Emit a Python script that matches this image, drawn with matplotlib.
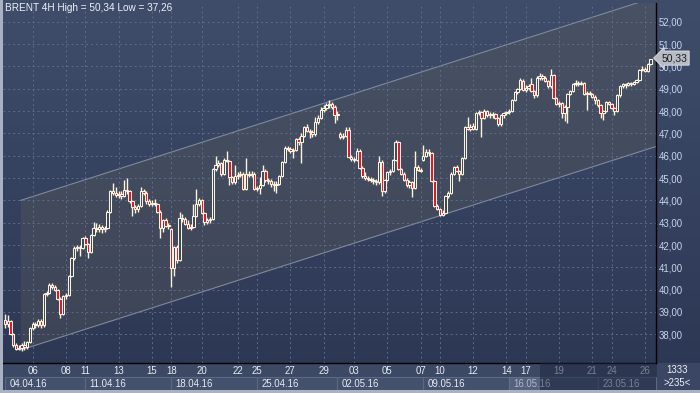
"""BRENT 4H candlestick chart"""

import numpy as np
import matplotlib
matplotlib.use('Agg')
import matplotlib.pyplot as plt
import matplotlib.transforms as mtransforms
from matplotlib.colors import LinearSegmentedColormap
from matplotlib.patches import Rectangle, Polygon

# Data ########################################################################
opens = [
    38.65, 38.45, 38.60, 38.00, 37.50, 37.35, 37.40, 37.50, 37.45, 37.65,
    38.30, 38.45, 38.40, 38.60, 38.40, 39.80, 39.85, 40.20, 40.10, 40.00,
    39.60, 38.90, 39.70, 39.75, 40.60, 41.40, 41.85, 41.90, 41.85, 42.30,
    42.05, 41.70, 42.45, 42.75, 42.70, 42.80, 42.70, 42.75, 43.50, 44.40,
    44.35, 44.25, 44.30, 44.20, 44.45, 44.40, 43.95, 43.70, 43.60, 43.75,
    44.40, 44.35, 43.95, 43.85, 43.90, 43.85, 43.50, 42.75, 43.10, 42.85,
    42.70, 40.95, 41.90, 41.35, 43.20, 43.15, 42.95, 42.75, 42.80, 43.30,
    43.85, 44.00, 43.45, 43.05, 43.10, 43.15, 45.40, 45.60, 45.65, 45.20,
    45.80, 45.75, 45.05, 44.80, 45.10, 45.15, 45.20, 44.50, 45.20, 45.15,
    45.20, 44.50, 44.55, 44.70, 45.30, 44.90, 44.85, 44.75, 44.70, 44.75,
    45.10, 45.70, 46.35, 46.30, 46.20, 46.25, 46.75, 46.60, 46.90, 47.30,
    47.10, 47.05, 46.95, 47.50, 47.70, 48.05, 48.15, 48.25, 48.30, 48.20,
    47.80, 46.95, 46.85, 46.90, 47.15, 45.95, 45.85, 45.80, 46.20, 45.45,
    45.10, 45.00, 44.95, 44.90, 44.85, 44.80, 45.70, 44.40, 44.90, 45.25,
    45.30, 45.80, 46.60, 45.40, 45.20, 44.90, 44.70, 44.80, 44.55, 45.50,
    45.35, 45.80, 46.00, 46.15, 46.10, 44.85, 43.75, 43.60, 43.35, 43.45,
    44.20, 44.35, 45.20, 45.50, 45.30, 45.20, 45.90, 47.30, 47.20, 47.35,
    47.20, 47.90, 47.95, 47.70, 48.00, 47.80, 47.85, 47.85, 47.70, 47.40,
    47.80, 47.90, 47.95, 48.00, 48.50, 48.85, 49.00, 49.35, 48.95, 49.05,
    49.20, 48.90, 48.70, 49.50, 49.55, 49.50, 49.35, 49.10, 49.60, 48.60,
    48.30, 48.35, 47.90, 48.20, 48.75, 48.90, 49.20, 49.25, 49.20, 49.25,
    48.75, 48.80, 48.75, 48.65, 48.50, 48.25, 47.90, 48.00, 48.40, 48.30,
    48.15, 48.00, 48.70, 49.10, 49.20, 49.15, 49.25, 49.20, 49.30, 49.40,
    49.85, 49.90, 49.80, 50.10,
]
highs = [
    38.90, 38.87, 38.65, 38.05, 37.60, 37.50, 37.60, 37.70, 37.70, 38.35,
    38.55, 38.55, 38.70, 38.70, 39.85, 39.95, 40.30, 40.30, 40.20, 40.05,
    39.65, 39.75, 39.85, 40.65, 41.45, 41.95, 42.00, 42.00, 42.35, 42.40,
    42.10, 42.50, 43.05, 43.00, 42.95, 42.90, 42.85, 43.55, 44.45, 44.76,
    44.60, 44.40, 44.40, 44.90, 45.00, 44.45, 44.00, 43.80, 43.85, 44.60,
    44.50, 44.40, 44.05, 44.00, 44.05, 43.90, 43.55, 43.15, 43.20, 43.00,
    42.75, 41.95, 42.00, 43.50, 43.40, 43.25, 43.10, 42.95, 43.85, 44.50,
    44.10, 44.05, 43.50, 43.20, 43.25, 45.45, 46.00, 45.80, 45.70, 45.90,
    46.20, 45.80, 45.10, 45.60, 45.25, 45.30, 45.25, 45.90, 45.30, 45.30,
    45.25, 44.65, 45.05, 45.60, 45.40, 45.00, 44.95, 44.85, 44.85, 45.15,
    45.75, 46.45, 46.45, 46.40, 46.35, 46.80, 46.85, 47.00, 47.35, 47.40,
    47.20, 47.15, 47.75, 47.80, 48.20, 48.25, 48.35, 48.50, 48.40, 48.25,
    48.00, 47.05, 47.00, 47.30, 47.30, 46.05, 45.95, 46.35, 46.30, 45.55,
    45.25, 45.10, 45.05, 45.00, 44.95, 46.00, 45.80, 44.95, 45.30, 45.40,
    45.85, 46.70, 46.65, 45.45, 45.25, 45.00, 44.90, 44.85, 46.20, 45.60,
    45.45, 46.50, 46.30, 46.30, 46.15, 44.90, 43.85, 43.65, 43.55, 44.25,
    44.40, 45.25, 45.55, 45.60, 45.35, 45.95, 47.35, 47.75, 47.40, 47.45,
    47.95, 48.05, 48.00, 48.10, 48.05, 47.95, 47.95, 47.90, 47.75, 47.85,
    47.95, 48.00, 48.10, 48.55, 48.90, 49.05, 49.50, 49.45, 49.15, 49.20,
    49.46, 48.95, 49.55, 49.70, 49.65, 49.55, 49.40, 49.87, 49.65, 48.65,
    48.45, 48.40, 48.25, 48.80, 48.95, 49.25, 49.40, 49.35, 49.35, 49.30,
    48.90, 48.90, 48.80, 48.70, 48.55, 48.30, 48.05, 48.45, 48.45, 48.35,
    48.20, 48.75, 49.15, 49.25, 49.25, 49.30, 49.30, 49.35, 49.45, 49.90,
    50.00, 49.95, 50.15, 50.34,
]
lows = [
    38.30, 38.35, 37.95, 37.45, 37.30, 37.28, 37.26, 37.30, 37.35, 37.60,
    38.20, 38.30, 38.35, 38.30, 38.35, 39.70, 39.80, 40.05, 39.95, 39.55,
    38.72, 38.85, 39.60, 39.70, 40.55, 41.35, 41.75, 41.50, 41.80, 42.00,
    41.40, 41.65, 42.40, 42.60, 42.60, 42.55, 42.60, 42.70, 43.45, 44.25,
    44.15, 44.10, 44.05, 44.15, 44.30, 43.90, 43.30, 43.45, 43.50, 43.70,
    44.25, 43.85, 43.75, 43.75, 43.75, 43.45, 42.30, 42.60, 42.80, 42.70,
    40.13, 40.60, 41.20, 41.30, 43.05, 42.90, 42.70, 42.65, 42.75, 43.25,
    43.75, 43.40, 42.90, 42.95, 43.00, 43.10, 45.30, 45.50, 45.10, 45.15,
    45.70, 44.70, 44.75, 44.75, 44.95, 45.05, 44.45, 44.45, 45.05, 45.05,
    44.45, 44.40, 44.30, 44.65, 44.80, 44.75, 44.60, 44.40, 44.35, 44.70,
    45.05, 45.65, 46.20, 46.10, 45.90, 46.20, 46.50, 45.66, 46.85, 47.05,
    46.80, 46.85, 46.90, 47.40, 47.65, 47.95, 48.05, 48.15, 48.10, 47.45,
    47.60, 46.75, 46.75, 46.85, 45.90, 45.75, 45.70, 45.75, 45.40, 45.00,
    44.90, 44.85, 44.80, 44.75, 44.70, 44.75, 44.20, 44.35, 44.85, 45.15,
    45.25, 45.75, 45.35, 45.15, 44.85, 44.60, 44.55, 44.17, 44.50, 45.30,
    45.25, 45.75, 45.95, 46.00, 44.80, 43.70, 43.55, 43.30, 43.30, 43.40,
    44.10, 44.30, 45.15, 45.25, 44.85, 45.15, 45.85, 47.15, 47.10, 47.15,
    47.15, 47.80, 46.85, 47.65, 47.75, 47.70, 47.70, 47.65, 47.35, 47.35,
    47.70, 47.80, 47.85, 47.95, 48.45, 48.75, 48.95, 48.90, 48.85, 48.95,
    48.85, 48.60, 48.65, 49.40, 49.40, 49.30, 49.05, 49.05, 48.55, 48.25,
    48.20, 47.70, 47.55, 47.45, 48.70, 48.85, 49.10, 49.10, 49.15, 48.70,
    48.05, 48.70, 48.60, 48.30, 48.20, 47.70, 47.60, 47.95, 48.25, 48.10,
    47.80, 47.95, 48.65, 49.05, 49.05, 49.10, 49.10, 49.15, 49.25, 49.35,
    49.80, 49.75, 49.75, 50.05,
]
closes = [
    38.45, 38.60, 38.00, 37.50, 37.35, 37.40, 37.50, 37.45, 37.65, 38.30,
    38.45, 38.40, 38.60, 38.40, 39.80, 39.85, 40.20, 40.10, 40.00, 39.60,
    38.90, 39.70, 39.75, 40.60, 41.40, 41.85, 41.90, 41.85, 42.30, 42.05,
    41.70, 42.45, 42.75, 42.70, 42.80, 42.70, 42.75, 43.50, 44.40, 44.35,
    44.25, 44.30, 44.20, 44.45, 44.40, 43.95, 43.70, 43.60, 43.75, 44.40,
    44.35, 43.95, 43.85, 43.90, 43.85, 43.50, 42.75, 43.10, 42.85, 42.90,
    40.95, 41.90, 41.35, 43.20, 43.15, 42.95, 42.75, 42.80, 43.30, 43.85,
    44.00, 43.45, 43.05, 43.10, 43.15, 45.40, 45.60, 45.65, 45.20, 45.80,
    45.75, 45.05, 44.80, 45.10, 45.15, 45.20, 44.50, 45.20, 45.15, 45.20,
    44.50, 44.55, 44.70, 45.30, 44.90, 44.85, 44.75, 44.70, 44.75, 45.10,
    45.70, 46.35, 46.30, 46.20, 46.25, 46.75, 46.60, 46.90, 47.30, 47.10,
    47.05, 46.95, 47.50, 47.70, 48.05, 48.15, 48.25, 48.30, 48.20, 47.80,
    47.85, 46.85, 46.90, 47.15, 45.95, 45.85, 45.80, 46.20, 45.45, 45.10,
    45.00, 44.95, 44.90, 44.85, 44.80, 45.70, 44.40, 44.90, 45.25, 45.30,
    45.80, 46.60, 45.40, 45.20, 44.90, 44.70, 44.80, 44.55, 45.50, 45.35,
    45.30, 46.00, 46.15, 46.10, 44.85, 43.75, 43.60, 43.35, 43.45, 44.20,
    44.35, 45.20, 45.50, 45.30, 45.20, 45.90, 47.30, 47.20, 47.30, 47.20,
    47.90, 47.95, 47.70, 48.00, 47.80, 47.85, 47.80, 47.70, 47.40, 47.80,
    47.90, 47.95, 48.00, 48.50, 48.85, 49.00, 49.40, 48.95, 49.05, 49.10,
    48.90, 48.70, 49.50, 49.55, 49.50, 49.35, 49.10, 49.60, 48.60, 48.30,
    48.35, 47.90, 48.20, 48.75, 48.90, 49.20, 49.25, 49.20, 49.25, 48.75,
    48.80, 48.75, 48.65, 48.50, 48.25, 47.90, 48.00, 48.40, 48.30, 48.15,
    48.00, 48.70, 49.10, 49.20, 49.15, 49.25, 49.20, 49.30, 49.40, 49.85,
    49.90, 49.80, 50.10, 50.33,
]

# Day labels (bar index where they sit) and week labels
day_idx = [10, 22, 29, 41, 53, 60, 71, 84, 91, 103, 115,
           126, 138, 150, 157, 169, 181, 188, 200, 212, 219, 231]
day_labels = ['06', '08', '11', '13', '15', '18', '20', '22', '25', '27', '29',
              '03', '05', '07', '10', '12', '14', '17', '19', '21', '24', '26']
week_idx = [0, 29, 60, 91, 120, 151, 182, 214]
week_labels = ['04.04.16', '11.04.16', '18.04.16', '25.04.16',
               '02.05.16', '09.05.16', '16.05.16', '23.05.16']
price_ticks = list(range(38, 53))
last_price = 50.33
title = 'BRENT 4H High = 50,34 Low = 37,26'

# Trend channel (lower line end points, channel height)
chan_x = [5.7, 240.0]
chan_low = [37.30, 46.61]
chan_height = 6.70

# Styling #####################################################################
plt.rcParams['font.family'] = ['Liberation Sans', 'DejaVu Sans']
FS = 6.6
cream = '#fbf3dc'
red = '#e3122e'
W, H = 700, 393

fig = plt.figure(figsize=(7, 3.93), dpi=100)

# Full-figure background gradient
bg = fig.add_axes([0, 0, 1, 1], zorder=-10)
bg.axis('off')
cmap = LinearSegmentedColormap.from_list('bg', ['#2b3652', '#3f4d6b'])
bg.imshow(np.linspace(0, 1, 256).reshape(-1, 1), cmap=cmap, aspect='auto',
          origin='lower', extent=[0, 1, 0, 1])
bg.set_xlim(0, 1)
bg.set_ylim(0, 1)

ax = fig.add_axes([3 / W, 30 / H, 653 / W, 360 / H])
ax.set_facecolor('none')

x = np.arange(len(closes))
o = np.array(opens)
c = np.array(closes)
hi = np.array(highs)
lo = np.array(lows)

# Channel
xs = np.array(chan_x)
lo_line = np.array(chan_low)
up_line = lo_line + chan_height
ax.add_patch(Polygon([(xs[0], lo_line[0]), (xs[0], up_line[0]),
                      (xs[1], up_line[1]), (xs[1], lo_line[1])],
                     closed=True, fc='#5a5a5a', alpha=0.36, ec='none', zorder=1))
ax.plot(xs, lo_line, color='#7f899d', lw=0.8, zorder=1.2)
ax.plot(xs, up_line, color='#7f899d', lw=0.8, zorder=1.2)

# Candles
up = c >= o
ax.vlines(x, lo, hi, color=cream, lw=1.0, zorder=3)
body_colors = np.where(up, '#3c465c', red)
ax.bar(x, np.abs(c - o), bottom=np.minimum(o, c), width=0.85,
       color=body_colors, edgecolor=cream, linewidth=0.75, zorder=4)

# Axes, ticks, grid
ax.set_xlim(-0.72, 235.0)
ax.set_ylim(36.716, 52.837)
ax.set_xticks(day_idx)
ax.set_xticklabels(day_labels)
ax.set_yticks(price_ticks)
ax.set_yticklabels(['%d,00' % p for p in price_ticks])
ax.yaxis.tick_right()
ax.tick_params(axis='y', length=0, pad=2.2, labelsize=FS + 0.3, labelcolor='#c9d5ec')
ax.tick_params(axis='x', length=0, pad=2.5, labelsize=FS + 0.3, labelcolor='#e6ebf3')
ax.set_axisbelow('line')
ax.grid(True, color='#5e6c8a', lw=0.7, ls=(0, (2, 3)))
for s in ('top', 'left'):
    ax.spines[s].set_visible(False)
for s in ('right', 'bottom'):
    ax.spines[s].set_color('black')
    ax.spines[s].set_linewidth(1.0)

# Bottom date panel
xtr = ax.get_xaxis_transform()
ax.add_patch(Rectangle((-0.72, 0), 235.72, -0.075, transform=xtr, clip_on=False,
                       fc='#3c4965', ec='none', zorder=0.5))
for i, (wi, lab) in enumerate(zip(week_idx, week_labels)):
    nxt = week_idx[i + 1] if i + 1 < len(week_idx) else 235.0
    ax.add_patch(Rectangle((wi, -0.0375), nxt - wi, -0.0375, transform=xtr,
                           clip_on=False, fc='#44516d', ec='#5b6885', lw=0.8,
                           zorder=0.6))
    ax.text(wi + 1.6, -0.057, lab, transform=xtr, ha='left', va='center',
            fontsize=FS + 0.3, color='#e6ebf3', clip_on=False)
# scroll thumb / shaded zone at the right end of the date panel
ax.add_patch(Rectangle((182, -0.0375), 11.1, -0.0375, transform=xtr,
                       clip_on=False, fc='#6c7892', alpha=0.45, ec='none', zorder=5))
ax.add_patch(Rectangle((193.1, 0), 41.9, -0.075, transform=xtr, clip_on=False,
                       fc='#1f2840', alpha=0.55, ec='none', zorder=5))

# Last price marker
ytr = mtransforms.blended_transform_factory(ax.transAxes, ax.transData)
ax.text(1.008, 50.37, '50,33', transform=ytr, ha='left', va='center',
        fontsize=FS + 0.9, color='#1c1c1c', clip_on=False, zorder=6,
        bbox=dict(boxstyle='larrow,pad=0.2', fc='#b7bbc4', ec='#dfe2e8', lw=0.6))

# Title and corner counters
fig.text(5 / W, 1 - 8 / H, title, ha='left', va='center', fontsize=FS + 0.6,
         color='#eef1f6')
fig.text(677 / W, 1 - 370 / H, '1333', ha='center', va='center', fontsize=FS + 0.3,
         color='#eef1f6')
fig.text(677 / W, 1 - 383 / H, '>235<', ha='center', va='center', fontsize=FS + 0.3,
         color='#eef1f6')
fig.add_artist(Rectangle((657 / W, 1 - 390 / H), 43 / W, 27 / H,
                         transform=fig.transFigure, fc='#3a4663', ec='none',
                         zorder=-5))

# light window frame on the left and bottom
fig.add_artist(Rectangle((0, 0), 3 / W, 1, transform=fig.transFigure,
                         fc='#aab2c2', ec='none'))
fig.add_artist(Rectangle((0, 0), 1, 3 / H, transform=fig.transFigure,
                         fc='#aab2c2', ec='none'))

plt.savefig('out.png', dpi=100)
